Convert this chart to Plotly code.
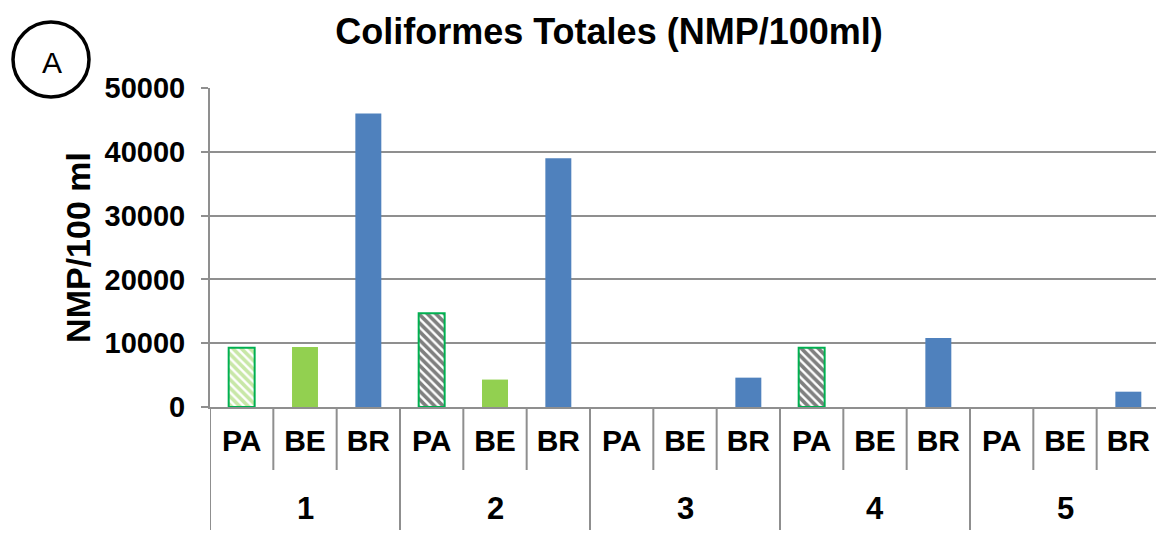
import plotly.graph_objects as go

groups = ["1", "2", "3", "4", "5"]
subs = ["PA", "BE", "BR"]
pa_vals = [9300, 14700, 0, 9300, 0]
be_vals = [9400, 4300, 0, 0, 0]
br_vals = [46000, 39000, 4600, 10800, 2400]
pa_hatch_colors = ["#92D050", "#000000", "#000000", "#000000", "#000000"]
y_ticks = [0, 10000, 20000, 30000, 40000, 50000]

FONT = "Arial, Liberation Sans, sans-serif"
GRID = "#8f8f8f"

nsub = len(subs)
def xpos(s):
    return [g * nsub + s for g in range(len(groups))]

fig = go.Figure()
fig.add_trace(go.Bar(
    x=xpos(0), y=pa_vals, width=0.41,
    marker=dict(color="white",
                line=dict(color="#00B050", width=[2 if v > 0 else 0 for v in pa_vals]),
                pattern=dict(shape="\\", fgcolor=pa_hatch_colors, bgcolor="white",
                             size=6, solidity=0.6)),
    showlegend=False))
fig.add_trace(go.Bar(x=xpos(1), y=be_vals, width=0.41,
                     marker=dict(color="#92D050", line=dict(width=0)), showlegend=False))
fig.add_trace(go.Bar(x=xpos(2), y=br_vals, width=0.41,
                     marker=dict(color="#4F81BD", line=dict(width=0)), showlegend=False))

tickvals = list(range(len(groups) * nsub))
ticktext = ["<b>%s</b>" % subs[i % nsub] for i in tickvals]

plot_h = 319
plot_w = 950
shapes = []
for k in range(len(groups) * nsub + 1):
    is_group = (k % nsub == 0)
    shapes.append(dict(type="line", xref="x", yref="paper",
                       x0=k - 0.5, x1=k - 0.5, y0=0,
                       y1=(-123 / plot_h) if is_group else (-63 / plot_h),
                       line=dict(color=GRID, width=2)))
# circled "A"
shapes.append(dict(type="circle", xref="paper", yref="paper",
                   x0=(13 - 210) / plot_w, x1=(89 - 210) / plot_w,
                   y0=(407 - 97) / plot_h, y1=(407 - 22) / plot_h,
                   line=dict(color="black", width=3.5)))

annotations = []
for g, name in enumerate(groups):
    annotations.append(dict(x=g * nsub + 1, y=(407 - 508) / plot_h, xref="x", yref="paper",
                            text="<b>%s</b>" % name, showarrow=False,
                            font=dict(family=FONT, size=31, color="black"),
                            xanchor="center", yanchor="middle"))
annotations.append(dict(x=(52 - 210) / plot_w, y=(407 - 62) / plot_h, xref="paper", yref="paper",
                        text="A", showarrow=False,
                        font=dict(family=FONT, size=30, color="black"),
                        xanchor="center", yanchor="middle"))

fig.update_layout(
    width=1164, height=539,
    margin=dict(l=202, r=12, t=80, b=140, autoexpand=False),
    paper_bgcolor="white", plot_bgcolor="white",
    title=dict(text="<b>Coliformes Totales (NMP/100ml)</b>", x=601 / 1164, xanchor="center",
               y=1 - 23 / 539, yanchor="middle",
               font=dict(family=FONT, size=36, color="black")),
    barmode="overlay",
    shapes=shapes,
    annotations=annotations,
    xaxis=dict(range=[-0.5, len(groups) * nsub - 0.5], tickvals=tickvals, ticktext=ticktext,
               tickfont=dict(family=FONT, size=30, color="black"),
               showline=True, linecolor=GRID, linewidth=2, showgrid=False, zeroline=False,
               ticks="", ticklabelstandoff=6, automargin=False),
    yaxis=dict(range=[0, 50000], tickvals=y_ticks, ticktext=["<b>%d</b>" % v for v in y_ticks],
               tickfont=dict(family=FONT, size=29, color="black"),
               showline=True, linecolor=GRID, linewidth=2,
               showgrid=True, gridcolor=GRID, gridwidth=2, zeroline=False,
               ticks="outside", ticklen=7, tickcolor=GRID, tickwidth=2,
               ticklabelstandoff=10, automargin=False,
               title=dict(text="<b>NMP/100 ml</b>", standoff=4,
                          font=dict(family=FONT, size=34, color="black"))),
)

fig.write_html("out.html")
